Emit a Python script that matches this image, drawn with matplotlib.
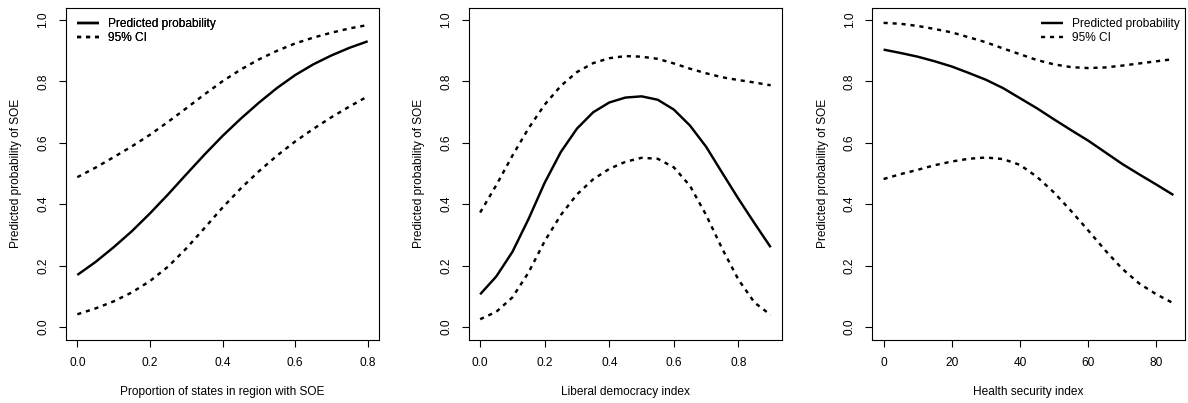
import matplotlib
matplotlib.use("Agg")
import matplotlib.pyplot as plt

plt.rcParams['font.family'] = ['Liberation Sans', 'DejaVu Sans']

# ---------------- data ----------------
x1 = [0.00, 0.05, 0.10, 0.15, 0.20, 0.25, 0.30, 0.35, 0.40, 0.45, 0.50,
      0.55, 0.60, 0.65, 0.70, 0.75, 0.80]
p1_fit = [0.170, 0.212, 0.260, 0.312, 0.370, 0.432, 0.497, 0.561, 0.622, 0.678,
          0.730, 0.778, 0.820, 0.855, 0.884, 0.909, 0.930]
p1_upper = [0.488, 0.519, 0.553, 0.588, 0.626, 0.668, 0.712, 0.757, 0.800, 0.838,
            0.871, 0.899, 0.923, 0.942, 0.958, 0.972, 0.983]
p1_lower = [0.042, 0.061, 0.084, 0.113, 0.150, 0.197, 0.256, 0.322, 0.389, 0.451,
            0.507, 0.558, 0.604, 0.645, 0.683, 0.718, 0.751]

x2 = [0.00, 0.05, 0.10, 0.15, 0.20, 0.25, 0.30, 0.35, 0.40, 0.45, 0.50,
      0.55, 0.60, 0.65, 0.70, 0.75, 0.80, 0.85, 0.90]
p2_fit = [0.107, 0.165, 0.245, 0.352, 0.470, 0.570, 0.646, 0.699, 0.731, 0.747,
          0.751, 0.740, 0.708, 0.656, 0.587, 0.502, 0.418, 0.338, 0.260]
p2_upper = [0.373, 0.462, 0.558, 0.647, 0.724, 0.785, 0.830, 0.859, 0.875, 0.882,
            0.880, 0.873, 0.858, 0.841, 0.826, 0.813, 0.804, 0.796, 0.787]
p2_lower = [0.026, 0.050, 0.097, 0.178, 0.280, 0.365, 0.432, 0.481, 0.515, 0.538,
            0.551, 0.548, 0.520, 0.460, 0.365, 0.255, 0.155, 0.080, 0.040]

x3 = [0, 5, 10, 15, 20, 25, 30, 35, 40, 45, 50, 55, 60, 65, 70, 75, 80, 85]
p3_fit = [0.903, 0.892, 0.880, 0.865, 0.848, 0.827, 0.805, 0.778, 0.745, 0.712,
          0.676, 0.641, 0.607, 0.569, 0.531, 0.497, 0.464, 0.430]
p3_upper = [0.990, 0.987, 0.980, 0.970, 0.959, 0.943, 0.927, 0.907, 0.888, 0.869,
            0.855, 0.846, 0.843, 0.845, 0.851, 0.858, 0.865, 0.872]
p3_lower = [0.482, 0.498, 0.512, 0.527, 0.539, 0.548, 0.552, 0.547, 0.528, 0.489,
            0.438, 0.378, 0.315, 0.250, 0.190, 0.142, 0.107, 0.078]

xlabels = ["Proportion of states in region with SOE",
           "Liberal democracy index",
           "Health security index"]
ylabel = "Predicted probability of SOE"
legend_labels = ["Predicted probability", "95% CI"]

x1_ticks = [0.0, 0.2, 0.4, 0.6, 0.8]
x1_ticklabels = ["0.0", "0.2", "0.4", "0.6", "0.8"]
x2_ticks = [0.0, 0.2, 0.4, 0.6, 0.8]
x2_ticklabels = ["0.0", "0.2", "0.4", "0.6", "0.8"]
x3_ticks = [0, 20, 40, 60, 80]
x3_ticklabels = ["0", "20", "40", "60", "80"]
y_ticks = [0.0, 0.2, 0.4, 0.6, 0.8, 1.0]
y_ticklabels = ["0.0", "0.2", "0.4", "0.6", "0.8", "1.0"]

# ---------------- layout ----------------
W, H = 1188, 403
fig = plt.figure(figsize=(W / 100, H / 100), dpi=100)
FS = 8.6
LW = 1.75
DOT = (0, (1.7, 2.0))

panels = [
    dict(x=x1, fit=p1_fit, up=p1_upper, lo=p1_lower, left=65.7, right=379.3,
         xlim=(-0.032, 0.832), xt=x1_ticks, xtl=x1_ticklabels, loc="upper left"),
    dict(x=x2, fit=p2_fit, up=p2_upper, lo=p2_lower, left=468.5, right=782.3,
         xlim=(-0.036, 0.936), xt=x2_ticks, xtl=x2_ticklabels, loc="upper left"),
    dict(x=x3, fit=p3_fit, up=p3_upper, lo=p3_lower, left=872.0, right=1185.0,
         xlim=(-3.4, 88.4), xt=x3_ticks, xtl=x3_ticklabels, loc="upper right"),
]
top, bottom = 7.5, 339.5

for i, p in enumerate(panels):
    w = p["right"] - p["left"]
    h = bottom - top
    ax = fig.add_axes([p["left"] / W, (H - bottom) / H, w / W, h / H])
    l1, = ax.plot(p["x"], p["fit"], color="black", lw=LW, solid_capstyle="butt",
                  solid_joinstyle="round")
    l2, = ax.plot(p["x"], p["up"], color="black", lw=LW, linestyle=DOT,
                  dash_capstyle="butt")
    ax.plot(p["x"], p["lo"], color="black", lw=LW, linestyle=DOT,
            dash_capstyle="butt")
    ax.set_xlim(*p["xlim"])
    ax.set_ylim(-0.04, 1.04)
    ax.set_xticks(p["xt"])
    ax.set_xticklabels(p["xtl"], fontsize=FS)
    ax.set_yticks(y_ticks)
    ax.set_yticklabels(y_ticklabels, fontsize=FS, rotation=90, va="center", ha="center")
    ax.tick_params(axis="x", direction="out", length=5.3, width=0.8, pad=7.4)
    ax.tick_params(axis="y", direction="out", length=5.3, width=0.8, pad=10.8)
    for s in ax.spines.values():
        s.set_linewidth(0.8)
    ax.set_xlabel(xlabels[i], fontsize=FS)
    ax.xaxis.set_label_coords(0.5, -(386.0 - bottom) / h)
    ax.set_ylabel(ylabel, fontsize=FS)
    ax.yaxis.set_label_coords(-43.2 / w, 0.5)

    if p["loc"] == "upper left":
        anchor = ((77.0 - p["left"]) / w, 1 - 11.0 / h)
    else:
        anchor = (1 - (p["right"] - 1180.0) / w, 1 - 11.0 / h)
    ax.legend([l1, l2], legend_labels, loc=p["loc"], bbox_to_anchor=anchor,
              frameon=False, fontsize=FS, borderpad=0, borderaxespad=0,
              handlelength=1.85, handletextpad=0.76, labelspacing=0.1)

fig.savefig("out.png", dpi=100)
